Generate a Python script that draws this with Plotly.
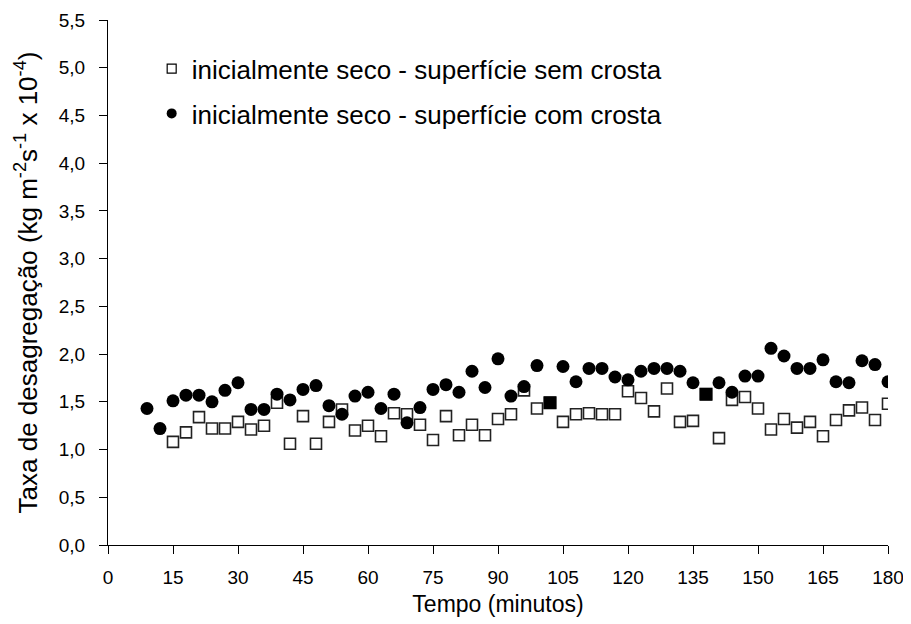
import plotly.graph_objects as go

# Tempo (minutos)
tempo_com = [9, 12, 15, 18, 21, 24, 27, 30, 33, 36, 39, 42, 45, 48, 51, 54, 57, 60, 63,
             66, 69, 72, 75, 78, 81, 84, 87, 90, 93, 96, 99, 102, 105, 108, 111, 114,
             117, 120, 123, 126, 129, 132, 135, 138, 141, 144, 147, 150, 153, 156, 159,
             162, 165, 168, 171, 174, 177, 180]
tempo_sem = tempo_com[2:]

# taxa de desagregacao (kg m-2 s-1 x 10-4)
sem_crosta = [1.08, 1.18, 1.34, 1.22, 1.22, 1.29, 1.21, 1.25, 1.49, 1.06, 1.35, 1.06,
              1.29, 1.42, 1.20, 1.25, 1.14, 1.38, 1.37, 1.26, 1.10, 1.35, 1.15, 1.26,
              1.15, 1.32, 1.37, 1.62, 1.43, 1.49, 1.29, 1.37, 1.38, 1.37, 1.37, 1.61,
              1.54, 1.40, 1.64, 1.29, 1.30, 1.58, 1.12, 1.52, 1.55, 1.43, 1.21, 1.32,
              1.23, 1.29, 1.14, 1.31, 1.41, 1.44, 1.31, 1.48]
com_crosta = [1.43, 1.22, 1.51, 1.57, 1.57, 1.50, 1.62, 1.70, 1.42, 1.42, 1.58, 1.52,
              1.63, 1.67, 1.46, 1.37, 1.56, 1.60, 1.43, 1.58, 1.28, 1.44, 1.63, 1.68,
              1.60, 1.82, 1.65, 1.95, 1.56, 1.66, 1.88, 1.49, 1.87, 1.71, 1.85, 1.85,
              1.76, 1.73, 1.82, 1.85, 1.85, 1.82, 1.70, 1.58, 1.70, 1.60, 1.77, 1.77,
              2.06, 1.98, 1.85, 1.85, 1.94, 1.71, 1.70, 1.93, 1.89, 1.71]
# two points of the "com crosta" series were drawn as filled squares
simbolos_com = ['square' if t in (102, 138) else 'circle' for t in tempo_com]

nome_sem = 'inicialmente seco - superfície sem crosta'
nome_com = 'inicialmente seco - superfície com crosta'

fig = go.Figure()
fig.add_trace(go.Scatter(
    x=tempo_sem, y=sem_crosta, mode='markers', showlegend=False,
    marker=dict(symbol='square', size=11, color='white',
                line=dict(color='#222222', width=1.6))))
fig.add_trace(go.Scatter(
    x=tempo_com, y=com_crosta, mode='markers', showlegend=False,
    marker=dict(symbol=simbolos_com, size=13, color='black', line=dict(width=0))))

# legend entries with smaller markers
fig.add_trace(go.Scatter(
    x=[None], y=[None], mode='markers', name=nome_sem, legendgroup='a',
    marker=dict(symbol='square', size=9, color='white', line=dict(color='black', width=1.2))))
fig.add_trace(go.Scatter(
    x=[None], y=[None], mode='markers', name=nome_com, legendgroup='b',
    marker=dict(symbol='circle', size=10, color='black')))

# page body keeps its default 8px margin, so the figure is a bit smaller
fig.update_layout(
    width=903, height=616,
    margin=dict(l=100, r=23, t=12, b=79),
    plot_bgcolor='white', paper_bgcolor='white',
    font=dict(family='Liberation Sans, Arial, sans-serif', size=19, color='black'),
    separators=',.',
    legend=dict(x=0.056, y=0.952, xanchor='left', yanchor='top',
                font=dict(size=26), tracegroupgap=8, bgcolor='rgba(0,0,0,0)'),
)
fig.update_xaxes(
    range=[0, 180], tickmode='linear', tick0=0, dtick=15, automargin=False,
    showgrid=False, zeroline=False, showline=True, linecolor='black', linewidth=1,
    ticks='outside', ticklen=8, tickcolor='black', ticklabelstandoff=7,
    title=dict(text='Tempo (minutos)', font=dict(size=23), standoff=9))
fig.update_yaxes(
    range=[0, 5.5], tickmode='linear', tick0=0, dtick=0.5, tickformat='.1f', automargin=False,
    showgrid=False, zeroline=False, showline=True, linecolor='black', linewidth=1,
    ticks='outside', ticklen=8, tickcolor='black', ticklabelstandoff=10,
    title=dict(text='Taxa de desagregação (kg m<sup>-2</sup>s<sup>-1</sup> x 10<sup>-4</sup>)',
               font=dict(size=26), standoff=13))

fig.write_html("out.html")
